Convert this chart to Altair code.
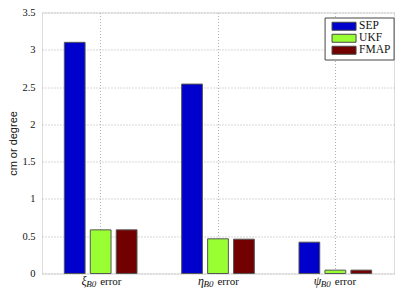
import altair as alt
import pandas as pd

categories = ["xi", "eta", "psi"]
greek = ["ξ", "η", "ψ"]
subscript = ["B0", "B0", "B0"]
word = ["error", "error", "error"]
methods = ["SEP", "UKF", "FMAP"]
sep = [3.10, 2.54, 0.42]
ukf = [0.585, 0.465, 0.045]
fmap = [0.585, 0.46, 0.045]
colors = ["#0000cc", "#99ff33", "#730000"]
yticks = [0, 0.5, 1, 1.5, 2, 2.5, 3, 3.5]

rows = []
for m, vals in zip(methods, [sep, ukf, fmap]):
    for c, v in zip(categories, vals):
        rows.append({"cat": c, "method": m, "value": v})
df = pd.DataFrame(rows)
lab = pd.DataFrame({"cat": categories, "greek": greek, "sub": subscript, "word": word})

W, H = 352, 261
BASE = H + 12

xenc = alt.X("cat:N", sort=categories,
             scale=alt.Scale(paddingInner=0, paddingOuter=0),
             axis=alt.Axis(labels=False, ticks=False, domain=False, grid=True,
                           gridDash=[1, 2], gridColor="#b0b0b0", title=None))

bars = alt.Chart(df).mark_bar(stroke="#555555", strokeWidth=1).encode(
    x=xenc,
    xOffset=alt.XOffset("method:N", sort=methods,
                        scale=alt.Scale(paddingInner=0.2, paddingOuter=0.86)),
    y=alt.Y("value:Q", scale=alt.Scale(domain=[0, 3.5], nice=False),
            axis=alt.Axis(values=yticks, format="~g", grid=True, gridDash=[1, 2],
                          gridColor="#b0b0b0", ticks=False, domain=False,
                          labelFont="Liberation Serif", labelFontSize=10.5,
                          labelColor="#111", labelPadding=7,
                          title="cm or degree", titleFont="Liberation Sans",
                          titleFontSize=11, titleFontWeight="normal", titleColor="#111",
                          titlePadding=3)),
    color=alt.Color("method:N", sort=methods,
                    scale=alt.Scale(domain=methods, range=colors),
                    legend=alt.Legend(title=None, orient="none", legendX=282.6, legendY=5,
                                      strokeColor="#444", fillColor="white", padding=3,
                                      symbolType="M-0.325,-1L5.675,-1L5.675,1L-0.325,1Z",
                                      symbolSize=64, symbolStrokeColor="#444",
                                      symbolStrokeWidth=1, symbolOpacity=1,
                                      labelOffset=20, labelFont="Liberation Serif",
                                      labelFontSize=11.5, labelColor="#111",
                                      rowPadding=-1.5)),
)

xtext = alt.X("cat:N", sort=categories)

t_word = alt.Chart(lab).mark_text(align="left", baseline="alphabetic", dx=-0.5,
                                  font="Liberation Serif", fontSize=11, color="#111").encode(
    x=xtext, y=alt.value(BASE), text="word:N")
t_sub = alt.Chart(lab).mark_text(align="right", baseline="alphabetic", dx=-4.5,
                                 font="Liberation Serif", fontSize=9, fontStyle="italic",
                                 color="#111").encode(
    x=xtext, y=alt.value(BASE + 2), text="sub:N")
t_greek = alt.Chart(lab).mark_text(align="right", baseline="alphabetic", dx=-14,
                                   font="Liberation Serif", fontSize=12, fontStyle="italic",
                                   color="#111").encode(
    x=xtext, y=alt.value(BASE - 0.5), text="greek:N")

chart = alt.layer(bars, t_word, t_sub, t_greek).properties(
    width=W, height=H,
    autosize=alt.AutoSizeParams(type="none"),
    padding={"left": 34, "top": 4.5, "right": 0.7, "bottom": 15.5},
).configure_view(stroke="#555555", strokeWidth=1).configure(background="white")

chart.save("out.html", embed_options={"renderer": "svg", "actions": False})
